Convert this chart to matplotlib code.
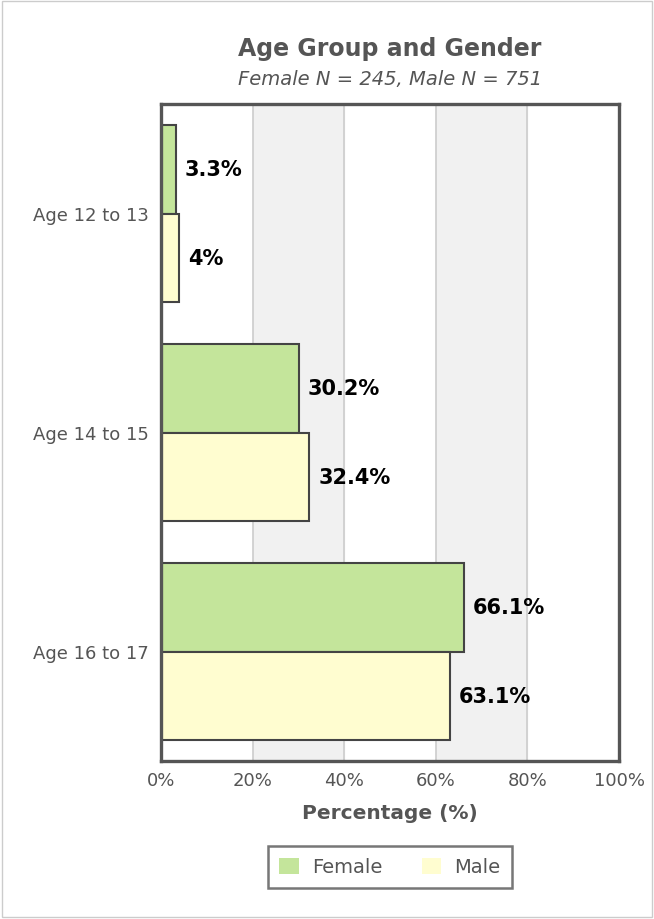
import numpy as np
import matplotlib.pyplot as plt
from matplotlib.patches import Rectangle, Patch

# data
categories = ["Age 12 to 13", "Age 14 to 15", "Age 16 to 17"]
female = [3.3, 30.2, 66.1]
male = [4.0, 32.4, 63.1]
female_labels = ["3.3%", "30.2%", "66.1%"]
male_labels = ["4%", "32.4%", "63.1%"]
xticks = [0, 20, 40, 60, 80, 100]
xtick_labels = ["0%", "20%", "40%", "60%", "80%", "100%"]

female_col = "#c4e59b"
male_col = "#fffdd0"
grey = "#555555"

W, H = 654, 920
fig = plt.figure(figsize=(W / 100, H / 100), dpi=100)
fig.patches.append(Rectangle((2 / W, 2 / H), 1 - 4 / W, 1 - 4 / H, transform=fig.transFigure,
                             fill=False, edgecolor="#cccccc", linewidth=1))

ax = fig.add_axes([161 / W, 1 - 762 / H, (619 - 161) / W, (762 - 105) / H])

# alternating bands + grid
for i in range(len(xticks) - 1):
    if i % 2 == 1:
        ax.axvspan(xticks[i], xticks[i + 1], color="#f1f1f1", zorder=0)
for t in xticks[1:-1]:
    ax.axvline(t, color="#cccccc", linewidth=1.2, zorder=1)

y = np.arange(len(categories))
h = 0.404
ax.barh(y - h / 2, female, height=h, color=female_col, edgecolor="#444444", linewidth=1.5, zorder=3)
ax.barh(y + h / 2, male, height=h, color=male_col, edgecolor="#444444", linewidth=1.5, zorder=3)

for yi, v, lab in zip(y, female, female_labels):
    ax.text(v + 1.9, yi - h / 2, lab, va="center", ha="left", fontsize=15,
            fontweight="bold", color="black", zorder=4)
for yi, v, lab in zip(y, male, male_labels):
    ax.text(v + 1.9, yi + h / 2, lab, va="center", ha="left", fontsize=15,
            fontweight="bold", color="black", zorder=4)

ax.set_xlim(0, 100)
ax.set_ylim(2.5, -0.5)
ax.set_xticks(xticks)
ax.set_xticklabels(xtick_labels, fontsize=13, color=grey)
ax.set_yticks(y)
ax.set_yticklabels(categories, fontsize=13, color=grey)
ax.tick_params(length=0, pad=7)
ax.tick_params(axis="y", pad=9)
for s in ax.spines.values():
    s.set_color(grey)
    s.set_linewidth(2.4)
    s.set_zorder(5)

ax.set_xlabel("Percentage (%)", fontsize=14.5, fontweight="bold", color=grey, labelpad=10)

fig.text(390 / W, 1 - 49 / H, "Age Group and Gender", ha="center", va="center",
         fontsize=17, fontweight="bold", color=grey)
fig.text(390 / W, 1 - 80 / H, "Female N = 245, Male N = 751", ha="center", va="center",
         fontsize=14, fontstyle="italic", color=grey)

handles = [Patch(facecolor=female_col, edgecolor="none", label="Female"),
           Patch(facecolor=male_col, edgecolor="none", label="Male")]
leg = fig.legend(handles=handles, loc="center", bbox_to_anchor=(390 / W, 1 - 868 / H),
                 ncol=2, frameon=True, fancybox=False, fontsize=14, handlelength=1.0,
                 handleheight=0.9, columnspacing=2.0, borderpad=0.6, handletextpad=0.7)
leg.get_frame().set_edgecolor(grey)
leg.get_frame().set_linewidth(1.8)
for t in leg.get_texts():
    t.set_color(grey)

fig.savefig("out.png", dpi=100)
